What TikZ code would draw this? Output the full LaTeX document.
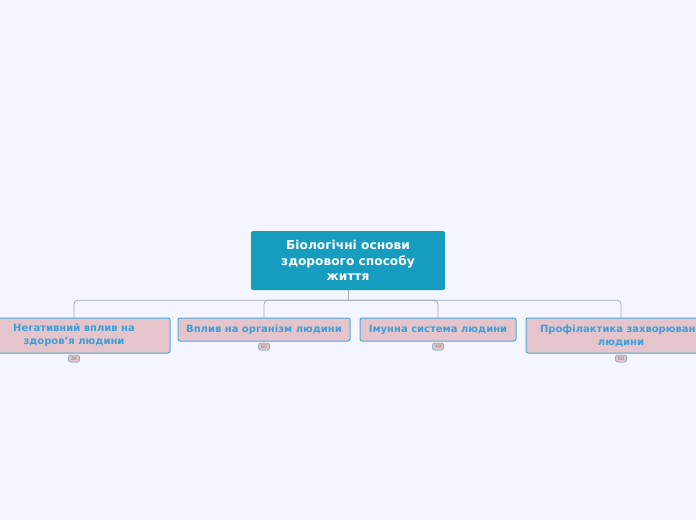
\documentclass[tikz,border=0pt]{standalone}
\usepackage{fontspec}
\setmainfont{DejaVu Sans}
\usetikzlibrary{positioning}

\definecolor{bgpage}{HTML}{F3F6FE}
\definecolor{roottopic}{HTML}{169CBE}
\definecolor{subfill}{HTML}{E5C5CB}
\definecolor{subline}{HTML}{4EA9DA}
\definecolor{subtext}{HTML}{3A9FDB}
\definecolor{linkgray}{HTML}{A3AAB8}

\tikzset{
  roottopic/.style={fill=roottopic, rounded corners=2pt, text=white, font=\bfseries\fontsize{12.2}{15.5}\selectfont,
    align=center, minimum width=194pt, minimum height=59pt, inner sep=0pt},
  subtopic/.style={fill=subfill, draw=subline, line width=1pt, rounded corners=2pt, text=subtext,
    font=\bfseries\fontsize{10}{12.8}\selectfont, align=center, inner sep=0pt},
  badge/.style={fill=subfill, draw=subline!60!gray, line width=0.5pt, rounded corners=2pt, text=gray,
    font=\fontsize{5}{5}\selectfont, minimum width=11pt, minimum height=7pt, inner sep=0pt},
  link/.style={draw=linkgray, line width=0.8pt, rounded corners=4pt}
}

\begin{document}
\begin{tikzpicture}[x=1pt, y=-1pt]
  % фон
  \fill[bgpage] (0,0) rectangle (696,520);
  \useasboundingbox (0,0) rectangle (696,520);

  % центральна тема
  \node[roottopic] (root) at (348,260.5) {Біологічні основи\\здорового способу\\життя};

  % підтеми
  \node[subtopic, minimum width=192pt, minimum height=35pt] (neg) at (74,335.5) {Негативний вплив на\\здоров{\char"0027}я людини};
  \node[subtopic, minimum width=172pt, minimum height=23pt] (org) at (264,329.5) {Вплив на організм людини};
  \node[subtopic, minimum width=156pt, minimum height=23pt] (imm) at (438,329.5) {Імунна система людини};
  \node[subtopic, minimum width=190pt, minimum height=35pt] (pro) at (621,335.5) {Профілактика захворювань\\людини};

  % лічильники
  \node[badge] (b1) at (74,358.5) {34};
  \node[badge] (b2) at (264,346.5) {60};
  \node[badge] (b3) at (438,346.5) {49};
  \node[badge] (b4) at (621,358.5) {60};

  % зв'язки
  \draw[link] (root.south) -- ++(0,10) coordinate (hub);
  \draw[link] (hub) -| (neg.north);
  \draw[link] (hub) -| (org.north);
  \draw[link] (hub) -| (imm.north);
  \draw[link] (hub) -| (pro.north);
\end{tikzpicture}
\end{document}
